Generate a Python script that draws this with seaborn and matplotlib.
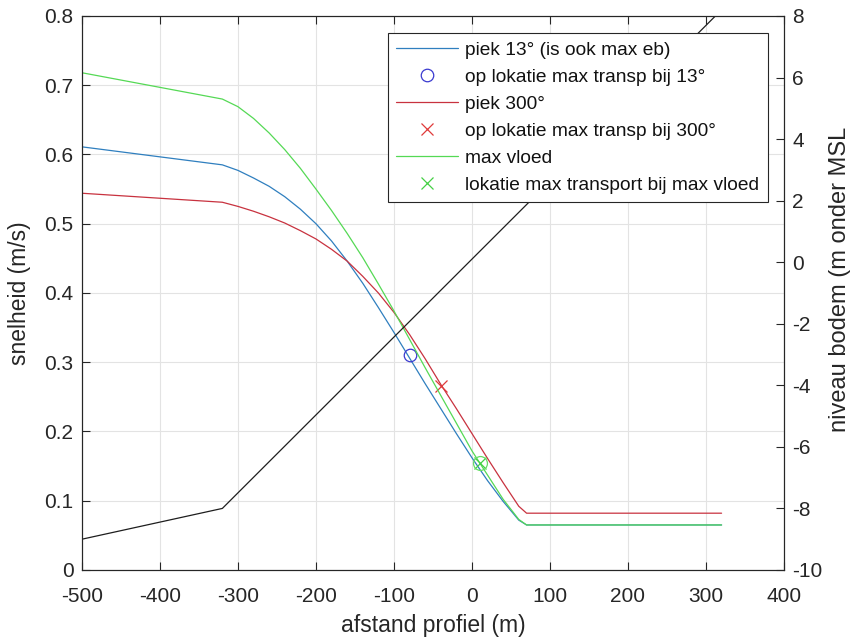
import matplotlib
matplotlib.use('Agg')
import matplotlib.pyplot as plt
import seaborn as sns

# ---- data ----
afstand = [-500, -320, -300, -280, -260, -240, -220, -200, -180, -160, -140, -120, -100,
           -80, -60, -40, -20, 0, 20, 40, 60, 70, 320]
piek_13 = [0.611, 0.585, 0.577, 0.566, 0.554, 0.539, 0.521, 0.500, 0.475, 0.446, 0.414, 0.379, 0.343,
           0.306, 0.269, 0.233, 0.197, 0.162, 0.129, 0.099, 0.072, 0.065, 0.065]
piek_300 = [0.544, 0.531, 0.525, 0.518, 0.510, 0.501, 0.490, 0.478, 0.463, 0.446, 0.424, 0.400, 0.372,
            0.340, 0.305, 0.268, 0.233, 0.197, 0.161, 0.126, 0.092, 0.082, 0.082]
max_vloed = [0.718, 0.680, 0.669, 0.652, 0.631, 0.607, 0.580, 0.550, 0.519, 0.486, 0.451, 0.413, 0.374,
             0.333, 0.292, 0.252, 0.212, 0.172, 0.137, 0.102, 0.073, 0.065, 0.065]

# bodemprofiel (rechter as)
afstand_bodem = [-500, -320, 320]
niveau_bodem = [-9.0, -8.0, 8.2]

# lokaties max transport
lok_13_x, lok_13_y = [-80], [0.31]
lok_300_x, lok_300_y = [-40], [0.265]
lok_vloed_x, lok_vloed_y = [10], [0.155]

xticks = [-500, -400, -300, -200, -100, 0, 100, 200, 300, 400]
yticks_links = [0, 0.1, 0.2, 0.3, 0.4, 0.5, 0.6, 0.7, 0.8]
ylabels_links = ['0', '0.1', '0.2', '0.3', '0.4', '0.5', '0.6', '0.7', '0.8']
yticks_rechts = [-10, -8, -6, -4, -2, 0, 2, 4, 6, 8]

sns.set_theme(style='white')
plt.rcParams['font.family'] = ['Liberation Sans', 'DejaVu Sans']
as_kleur = '#262626'

fig = plt.figure(figsize=(8.6, 6.41), dpi=100)
ax = fig.add_axes([0.0953, 0.1108, 0.8163, 0.8643])
ax2 = ax.twinx()

kl_blauw = '#2f7fbf'
kl_rood = '#c8323f'
kl_groen = '#55d955'

h1 = sns.lineplot(x=afstand, y=piek_13, ax=ax, color=kl_blauw, linewidth=0.9, sort=False, estimator=None).lines[-1]
h2, = ax.plot(lok_13_x, lok_13_y, linestyle='none', marker='o', markersize=9, markerfacecolor='none',
              markeredgecolor='#3a3ad0', markeredgewidth=0.9)
h3 = sns.lineplot(x=afstand, y=piek_300, ax=ax, color=kl_rood, linewidth=0.9, sort=False, estimator=None).lines[-1]
h4, = ax.plot(lok_300_x, lok_300_y, linestyle='none', marker='x', markersize=8,
              markeredgecolor='#e03a3a', markeredgewidth=0.9)
h5 = sns.lineplot(x=afstand, y=max_vloed, ax=ax, color=kl_groen, linewidth=0.9, sort=False, estimator=None).lines[-1]
h6, = ax.plot(lok_vloed_x, lok_vloed_y, linestyle='none', marker='x', markersize=8,
              markeredgecolor='#44d044', markeredgewidth=0.9)
ax.plot(lok_vloed_x, lok_vloed_y, linestyle='none', marker='o', markersize=10, markerfacecolor='none',
        markeredgecolor='#66dd66', markeredgewidth=0.9)

sns.lineplot(x=afstand_bodem, y=niveau_bodem, ax=ax2, color='#1e1e1e', linewidth=0.9, sort=False, estimator=None)

ax.set_xlim(-500, 400)
ax.set_ylim(0, 0.8)
ax2.set_ylim(-10, 8)
ax.set_xticks(xticks)
ax.set_xticklabels([str(t) for t in xticks])
ax.set_yticks(yticks_links)
ax.set_yticklabels(ylabels_links)
ax2.set_yticks(yticks_rechts)
ax2.set_yticklabels([str(t) for t in yticks_rechts])

ax.grid(True, color='#e3e3e3', linewidth=0.8)
ax2.grid(False)
ax.set_axisbelow(True)

for a in (ax, ax2):
    for s in a.spines.values():
        s.set_color(as_kleur)
        s.set_linewidth(0.8)
        s.set_visible(True)

ax.tick_params(axis='x', direction='in', length=6, width=0.8, top=True, bottom=True,
               colors=as_kleur, labelsize=15, pad=12)
ax.tick_params(axis='y', direction='in', length=6, width=0.8, left=True, right=False,
               colors=as_kleur, labelsize=15, pad=6)
ax2.tick_params(axis='y', direction='in', length=6, width=0.8, right=True, left=False,
                colors=as_kleur, labelsize=15, pad=6)

ax.set_xlabel('afstand profiel (m)', fontsize=16.5, color=as_kleur, labelpad=6)
ax.set_ylabel('snelheid (m/s)', fontsize=16.5, color=as_kleur, labelpad=10)
ax2.set_ylabel('niveau bodem (m onder MSL', fontsize=17, color=as_kleur)
ax2.yaxis.set_label_coords(1.064, 0.525)

leg = ax2.legend([h1, h2, h3, h4, h5, h6],
                 ['piek 13° (is ook max eb)', 'op lokatie max transp bij 13°', 'piek 300°',
                  'op lokatie max transp bij 300°', 'max vloed', 'lokatie max transport bij max vloed'],
                 loc='upper right', bbox_to_anchor=(0.977, 0.97), fontsize=13.8, frameon=True, fancybox=False,
                 framealpha=1, edgecolor=as_kleur, handlelength=3.2, handletextpad=0.4,
                 labelspacing=0.5, borderpad=0.45, borderaxespad=0)
leg.get_frame().set_linewidth(0.8)
for t in leg.get_texts():
    t.set_color('#111111')

fig.savefig('out.png', dpi=100)
